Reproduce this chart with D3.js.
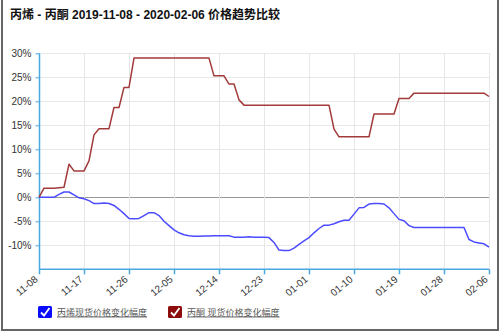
<!DOCTYPE html>
<html>
<head>
<meta charset="utf-8">
<script src="https://cdn.jsdelivr.net/npm/d3@7"></script>
<style>
  html, body { margin: 0; padding: 0; background: #fff; }
  svg text { font-family: Arial, "Liberation Sans", "Noto Sans CJK SC", sans-serif; }
</style>
</head>
<body>
<div id="chart"></div>
<script>
const title = '丙烯 - 丙酮 2019-11-08 - 2020-02-06 价格趋势比较';
const seriesNames = ['丙烯现货价格变化幅度', '丙酮 现货价格变化幅度'];
const startDay = new Date(2019, 10, 8);
const xTickLabels = ['11-08', '11-17', '11-26', '12-05', '12-14', '12-23', '01-01', '01-10', '01-19', '01-28', '02-06'];
const yTicks = [-10, -5, 0, 5, 10, 15, 20, 25, 30];

// daily % change, 2019-11-08 .. 2020-02-06
const propylene = [
  0, 0, 0, 0, 0.6, 1.1, 1.1, 0.5, -0.1, -0.3,
  -0.7, -1.3, -1.3, -1.2, -1.3, -1.7, -2.5, -3.4, -4.4, -4.45,
  -4.4, -3.8, -3.2, -3.2, -3.8, -5.0, -5.9, -6.8, -7.4, -7.8,
  -8.0, -8.1, -8.1, -8.05, -8.05, -8.0, -8.0, -8.0, -8.0, -8.3,
  -8.3, -8.3, -8.2, -8.3, -8.3, -8.3, -8.4, -9.4, -11.0, -11.1,
  -11.1, -10.6, -9.8, -9.1, -8.4, -7.4, -6.5, -5.8, -5.8, -5.5,
  -5.1, -4.8, -4.8, -3.5, -2.2, -2.1, -1.4, -1.3, -1.3, -1.4,
  -2.2, -3.4, -4.6, -4.9, -5.9, -6.3, -6.3, -6.3, -6.3, -6.3,
  -6.3, -6.3, -6.3, -6.3, -6.3, -6.3, -8.8, -9.3, -9.5, -9.7,
  -10.4
];
const acetone = [
  0, 1.9, 1.9, 1.9, 2.0, 2.1, 6.9, 5.5, 5.5, 5.5,
  7.6, 13.0, 14.3, 14.3, 14.3, 18.7, 18.7, 22.9, 22.9, 29.0,
  29.0, 29.0, 29.0, 29.0, 29.0, 29.0, 29.0, 29.0, 29.0, 29.0,
  29.0, 29.0, 29.0, 29.0, 29.0, 25.3, 25.3, 25.3, 23.6, 23.6,
  20.3, 19.2, 19.2, 19.2, 19.2, 19.2, 19.2, 19.2, 19.2, 19.2,
  19.2, 19.2, 19.2, 19.2, 19.2, 19.2, 19.2, 19.2, 19.2, 14.2,
  12.6, 12.6, 12.6, 12.6, 12.6, 12.6, 12.6, 17.35, 17.35, 17.35,
  17.35, 17.35, 20.6, 20.6, 20.6, 21.7, 21.7, 21.7, 21.7, 21.7,
  21.7, 21.7, 21.7, 21.7, 21.7, 21.7, 21.7, 21.7, 21.7, 21.7,
  21.0
];
const lineColors = ['#4b4bff', '#a33a3a'];
const boxColors = ['#0a0aff', '#8c0c0c'];

const W = 502, H = 334;
const svg = d3.select('#chart').append('svg')
  .attr('width', W).attr('height', H);

const endDay = d3.timeDay.offset(startDay, propylene.length - 1);
const x = d3.scaleTime().domain([startDay, endDay]).range([39, 489]);
const y = d3.scaleLinear().domain([-15, 30]).range([269.3, 53.3]);

const fmt = d3.timeFormat('%m-%d');
const tickDates = d3.timeDay.range(startDay, d3.timeDay.offset(endDay, 1))
  .filter(d => xTickLabels.includes(fmt(d)));

// frame
svg.append('path')
  .attr('d', `M2,-2V330H498V-2`)
  .attr('fill', 'none').attr('stroke', '#666').attr('stroke-width', 2);

// title
svg.append('text')
  .attr('x', 10).attr('y', 19)
  .attr('font-size', 12).attr('font-weight', 'bold').attr('fill', '#111')
  .text(title);

// grid
svg.append('g').selectAll('line').data(yTicks).join('line')
  .attr('x1', 39).attr('x2', 489)
  .attr('y1', d => Math.round(y(d)) + 0.5).attr('y2', d => Math.round(y(d)) + 0.5)
  .attr('stroke', d => d === 0 ? '#999' : '#e8e8e8')
  .attr('stroke-width', d => d === 0 ? 1.2 : 1);
svg.append('g').selectAll('line').data(tickDates.slice(1)).join('line')
  .attr('x1', d => Math.round(x(d)) + 0.5).attr('x2', d => Math.round(x(d)) + 0.5)
  .attr('y1', y(30)).attr('y2', y(-15))
  .attr('stroke', '#e6e6e6');

// axes
const yAxis = svg.append('g')
  .attr('transform', 'translate(39.5,0)')
  .call(d3.axisLeft(y).tickValues(yTicks).tickSize(4).tickPadding(4).tickFormat(d => d + '%'));
yAxis.select('.domain').attr('stroke', '#4aa8e0').attr('stroke-width', 1.5)
  .attr('d', `M0,${y(30)}V${y(-15)}`);
yAxis.selectAll('.tick line').attr('stroke', '#4aa8e0');
yAxis.selectAll('.tick text').attr('fill', '#333').attr('font-size', 10);

const xAxis = svg.append('g')
  .attr('transform', `translate(0,${y(-15)})`)
  .call(d3.axisBottom(x).tickValues(tickDates).tickSize(5).tickFormat(fmt));
xAxis.select('.domain').attr('stroke', '#4aa8e0').attr('stroke-width', 1.5)
  .attr('d', `M39,0H489`);
xAxis.selectAll('.tick line').attr('stroke', '#4aa8e0').attr('stroke-width', 1.5);
xAxis.selectAll('.tick text')
  .attr('fill', '#333').attr('font-size', 10)
  .attr('text-anchor', 'end')
  .attr('dy', null).attr('y', 0)
  .attr('transform', 'translate(-1,11) rotate(-40)');

// lines
const line = d3.line()
  .x((d, i) => x(d3.timeDay.offset(startDay, i)))
  .y(d => y(d));
[propylene, acetone].forEach((s, k) => {
  svg.append('path').datum(s)
    .attr('fill', 'none')
    .attr('stroke', lineColors[k])
    .attr('stroke-width', 1.5)
    .attr('stroke-linejoin', 'round')
    .attr('d', line);
});

// legend
const legendX = [38, 168];
seriesNames.forEach((name, k) => {
  const g = svg.append('g').attr('transform', `translate(${legendX[k]},306)`);
  g.append('rect').attr('width', 14).attr('height', 12).attr('rx', 1.5)
    .attr('fill', boxColors[k]);
  g.append('path').attr('d', 'M3,6.5L6,9.5L11.5,2')
    .attr('fill', 'none').attr('stroke', '#fff').attr('stroke-width', 1.8);
  g.append('text').attr('x', 19).attr('y', 9.5)
    .attr('font-size', 9).attr('fill', '#555')
    .attr('text-decoration', 'underline')
    .text(name);
});
</script>
</body>
</html>
